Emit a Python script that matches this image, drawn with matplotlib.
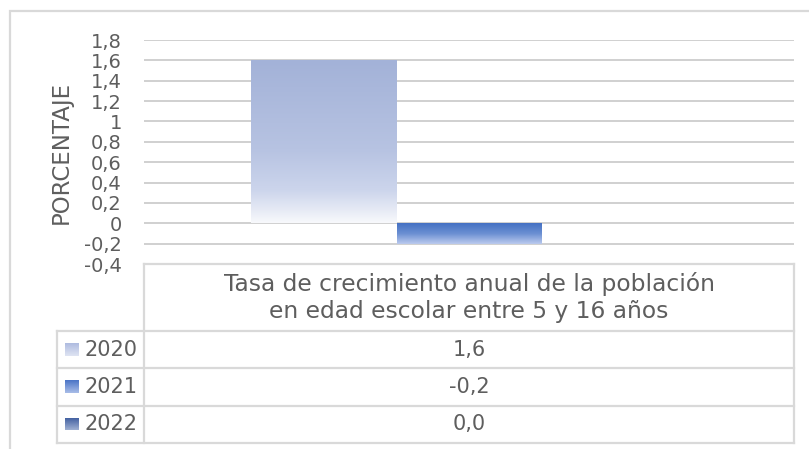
import numpy as np
import matplotlib
matplotlib.use("Agg")
import matplotlib.pyplot as plt
from matplotlib.colors import LinearSegmentedColormap
from matplotlib.lines import Line2D
from matplotlib.patches import Rectangle
from matplotlib.ticker import FuncFormatter, MultipleLocator

# data
years = ["2020", "2021", "2022"]
values = [1.6, -0.2, 0.0]
category = "Tasa de crecimiento anual de la población\nen edad escolar entre 5 y 16 años"
y_label = "PORCENTAJE"

# gradient stops for each series (top -> bottom of the bar)
bar_grads = [
    [(0.0, "#a3b2d8"), (0.55, "#b7c3e2"), (0.8, "#ccd5ec"), (0.92, "#e6eaf5"), (1.0, "#f8f9fc")],
    [(0.0, "#4470c3"), (0.5, "#6b8fd2"), (1.0, "#bccbee")],
    [(0.0, "#3a5a9c"), (0.5, "#5d77ad"), (1.0, "#a7b5d3")],
]
swatch_grads = [
    [(0.0, "#aebbe0"), (1.0, "#dfe4f2")],
    [(0.0, "#4a74c6"), (1.0, "#a9bde8")],
    [(0.0, "#3c5b9e"), (1.0, "#9fb0d2")],
]

FONT = "DejaVu Sans"
TXT = "#5e5e5e"
LINE = "#d9d9d9"
W, H = 809, 449


def fx(x):
    return x / W


def fy(y):
    return 1 - y / H


fig = plt.figure(figsize=(W / 100, H / 100), dpi=100)

# outer chart frame
fig.patches.append(Rectangle((fx(10), -0.1), 1.2, fy(11) + 0.1, transform=fig.transFigure,
                             fill=False, edgecolor=LINE, lw=1.6))

ax = fig.add_axes([fx(144), fy(264), 650 / W, 224 / H])

bw = 145 / 650
offsets = (np.arange(len(years)) - 1) * bw
bars = ax.bar(offsets, values, width=bw, color="none", edgecolor="none", zorder=2)

for b, stops in zip(bars, bar_grads):
    h = b.get_height()
    if abs(h) < 1e-9:
        continue
    cmap = LinearSegmentedColormap.from_list("g", stops)
    grad = np.linspace(0, 1, 256).reshape(-1, 1)
    x0 = b.get_x()
    y_top = max(b.get_y(), b.get_y() + h)
    y_bot = min(b.get_y(), b.get_y() + h)
    im = ax.imshow(grad, cmap=cmap, aspect="auto", extent=[x0, x0 + b.get_width(), y_bot, y_top],
                   origin="upper", zorder=2, interpolation="bicubic")
    im.set_clip_path(b)

ax.set_xlim(-0.5, 0.5)
ax.set_ylim(-0.4, 1.8)
ax.yaxis.set_major_locator(MultipleLocator(0.2))
ax.yaxis.set_major_formatter(FuncFormatter(
    lambda v, p: f"{round(v, 1):g}".replace(".", ",") if abs(v) > 1e-9 else "0"))
ax.grid(axis="y", color="#cdcdcd", lw=1.3, zorder=0)
ax.set_axisbelow(True)
for s in ax.spines.values():
    s.set_visible(False)
ax.tick_params(axis="y", length=0, pad=16, labelsize=14, labelcolor=TXT)
ax.tick_params(axis="x", length=0, labelbottom=False)
for lab in ax.get_yticklabels():
    lab.set_family(FONT)
ax.set_ylabel(y_label, fontsize=16.5, color=TXT, family=FONT)
ax.yaxis.set_label_coords((73 - 144) / 650, (264 - 152) / 224)

# data table under the plot (pixel layout)
tl, tc, tr = 57, 144, 794
t_top, h_bot, row_h = 264, 331, 37.4
row_edges = [h_bot + row_h * i for i in range(len(years) + 1)]


def hline(y, x0, x1):
    fig.add_artist(Line2D([fx(x0), fx(x1)], [fy(y), fy(y)], color=LINE, lw=1.6))


def vline(x, y0, y1):
    fig.add_artist(Line2D([fx(x), fx(x)], [fy(y0), fy(y1)], color=LINE, lw=1.6))


hline(t_top, tc, tr)
for y in row_edges:
    hline(y, tl, tr)
vline(tl, h_bot, row_edges[-1])
vline(tc, t_top, row_edges[-1])
vline(tr, t_top, row_edges[-1])

fig.text(fx((tc + tr) / 2), fy((t_top + h_bot) / 2), category, ha="center", va="center",
         fontsize=16.8, color=TXT, family=FONT, linespacing=1.2)

for i, (yr, v, stops) in enumerate(zip(years, values, swatch_grads)):
    yc = (row_edges[i] + row_edges[i + 1]) / 2
    fig.text(fx(138), fy(yc), yr, ha="right", va="center", fontsize=15, color=TXT, family=FONT)
    fig.text(fx((tc + tr) / 2), fy(yc), f"{v:.1f}".replace(".", ","), ha="center", va="center",
             fontsize=15, color=TXT, family=FONT)
    sax = fig.add_axes([fx(65), fy(yc + 6), 14 / W, 13 / H])
    sax.imshow(np.linspace(0, 1, 64).reshape(-1, 1),
               cmap=LinearSegmentedColormap.from_list("s", stops), aspect="auto")
    sax.axis("off")

fig.savefig("out.png", dpi=100)
